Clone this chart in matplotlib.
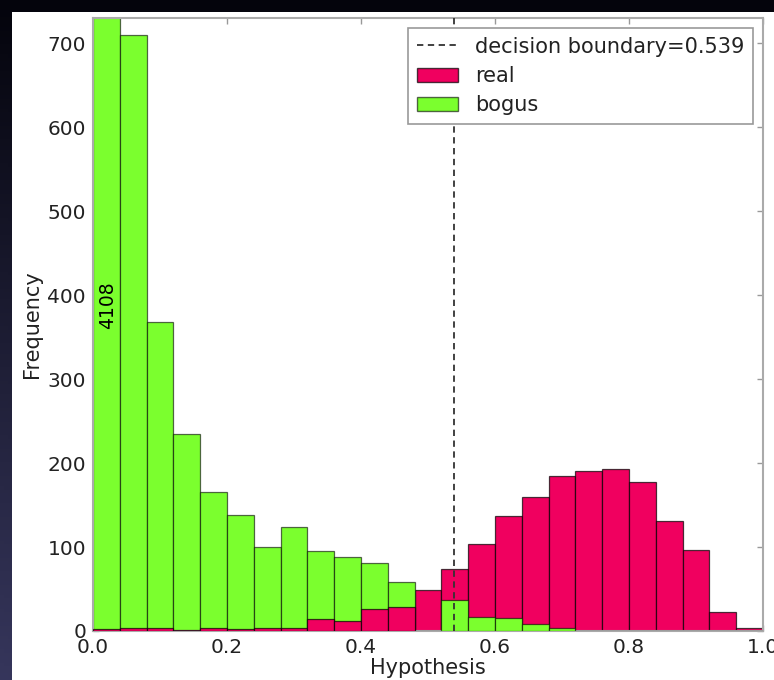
import numpy as np
import matplotlib
matplotlib.use("Agg")
import matplotlib.pyplot as plt
from matplotlib.patches import Rectangle, Patch
from matplotlib.lines import Line2D
from matplotlib.colors import LinearSegmentedColormap

# ---- data ----
bin_width = 0.04
n_bins = 25
real_counts = [2, 3, 3, 1, 4, 2, 3, 4, 14, 12, 26, 29, 49, 74, 104, 137,
               159, 185, 190, 193, 177, 131, 96, 23, 3]
bogus_counts = [4108, 710, 368, 235, 166, 138, 100, 124, 95, 88, 81, 58, 0,
                37, 17, 16, 8, 3, 0, 0, 0, 0, 0, 0, 0]
decision_boundary = 0.539
x_ticks = [0.0, 0.2, 0.4, 0.6, 0.8, 1.0]
y_ticks = [0, 100, 200, 300, 400, 500, 600, 700]
overflow_label = "4108"

real_color = "#F0005F"
bogus_color = "#7BFF2E"

W, H = 774, 680
fig = plt.figure(figsize=(W / 100, H / 100), dpi=100)

# dark gradient background
bg = fig.add_axes([0, 0, 1, 1], zorder=-10)
gy, gx = np.mgrid[0:1:200j, 0:1:200j]
grad = np.clip(0.25 * gy + 0.12 * (1 - gx) * gy, 0, 1)
cmap = LinearSegmentedColormap.from_list("bgc", ["#04040c", "#3a3a62"])
bg.imshow(grad, cmap=cmap, aspect="auto", extent=[0, 1, 0, 1], origin="upper",
          vmin=0, vmax=0.4)
bg.axis("off")
# white canvas
bg.add_patch(Rectangle((12 / W, 0), 1, (H - 12) / H, transform=bg.transAxes,
                       facecolor="white", edgecolor="none", zorder=5))

ax = fig.add_axes([93 / W, 1 - 631 / H, (763 - 93) / W, (631 - 18) / H])
ax.set_facecolor("white")

lefts = [i * bin_width for i in range(n_bins)]
ax.axvline(decision_boundary, color="#333333", lw=1.3,
           linestyle=(0, (3.5, 2.5)), zorder=6)
rb = ax.bar(lefts, real_counts, width=bin_width, align="edge",
            color=real_color, edgecolor=(0, 0, 0, 0.7), linewidth=0.9)
bb = ax.bar(lefts, bogus_counts, width=bin_width, align="edge",
            color=bogus_color, edgecolor=(0, 0, 0, 0.6), linewidth=0.9)
for r, b, rv, bv in zip(rb.patches, bb.patches, real_counts, bogus_counts):
    if rv >= bv:
        r.set_zorder(2); b.set_zorder(3)
    else:
        r.set_zorder(3); b.set_zorder(2)

ax.text(0.021, 388, overflow_label, rotation=90, ha="center", va="center",
        fontsize=13.5, color="black", zorder=7)

ax.set_xlim(0, 1.0)
ax.set_ylim(0, 730)
ax.set_xticks(x_ticks)
ax.set_yticks(y_ticks)
ax.set_xticklabels([f"{v:.1f}" for v in x_ticks])
ax.tick_params(direction="in", top=True, right=True, length=4, width=1,
               color="#999999", labelsize=14.5, labelcolor="#222222", pad=5)
for s in ax.spines.values():
    s.set_color("#aaaaaa")
    s.set_linewidth(1.5)

ax.set_xlabel("Hypothesis", fontsize=15, color="#222222", labelpad=1)
ax.set_ylabel("Frequency", fontsize=15, color="#222222", labelpad=4)

handles = [Line2D([0], [0], color="#333333", lw=1.3, linestyle=(0, (3.5, 2.5))),
           Patch(facecolor=real_color, edgecolor=(0, 0, 0, 0.7)),
           Patch(facecolor=bogus_color, edgecolor=(0, 0, 0, 0.6))]
labels = [f"decision boundary={decision_boundary}", "real", "bogus"]
leg = ax.legend(handles, labels, loc="upper right", fontsize=15, fancybox=False,
                framealpha=1, edgecolor="#999999", labelcolor="#222222",
                handlelength=2.0, borderpad=0.4, labelspacing=0.45)
leg.get_frame().set_linewidth(1.2)
leg.set_zorder(10)

fig.savefig("out.png", dpi=100)
